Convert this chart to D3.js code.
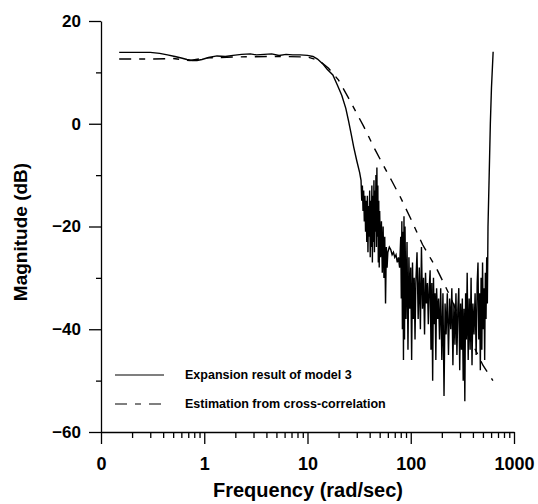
<!DOCTYPE html>
<html lang="en">
<head>
  <meta charset="UTF-8">
  <title>magnitude</title>
  <style>
    body { margin: 0; background: #fff; }
    text { font-family: "Liberation Sans", Arial, sans-serif; font-weight: bold; fill: #000; }
  </style>
</head>
<body>
  <script src="https://cdn.jsdelivr.net/npm/d3@7/dist/d3.min.js"></script>
  <script>
  // tick values and labels
  var xMajor = [0.1, 1, 10, 100, 1000];
  var xMajorLabels = ['0', '1', '10', '100', '1000'];
  var xMinor = [0.2, 0.3, 0.4, 0.5, 0.6, 0.7, 0.8, 0.9,
                2, 3, 4, 5, 6, 7, 8, 9,
                20, 30, 40, 50, 60, 70, 80, 90,
                200, 300, 400, 500, 600, 700, 800, 900];
  var yMajor = [20, 0, -20, -40, -60];
  var yMinor = [10, -10, -30, -50];

  var seriesNames = ['Expansion result of model 3', 'Estimation from cross-correlation'];

  // expansion result of model 3  [freq, dB]
  var modelFreq = [0.15, 0.2, 0.3, 0.37, 0.44, 0.52, 0.6, 0.68, 0.76, 0.85, 0.95, 1.1, 1.33, 1.6, 1.9, 2.3, 2.8, 3.2, 3.8, 4.5, 5.3, 6.2, 7.2, 8.5, 10, 11.3, 12.5, 14, 15.5, 17.6, 19.5, 21.5, 23.5, 25, 26.5, 28, 30, 32,
    33, 33.5, 34, 34.5, 35, 35.5, 36, 36.5, 37, 37.5, 38, 38.5, 39, 39.5, 40, 40.5, 41, 41.5, 42, 42.5, 43, 43.5, 44, 44.5, 45, 45.5, 46, 46.5, 47, 47.5, 48, 48.5, 49, 49.5, 50, 51, 52, 53,
    54, 55, 56, 57, 58, 59, 60, 62, 64, 66, 68, 70, 72, 74, 76, 78,
    80, 81, 82, 83, 84, 85, 86, 87, 88, 90, 92, 94, 96, 98, 100, 102, 104, 106, 108, 110, 112,
    115, 118, 121, 124, 127, 130, 133, 136, 139, 142, 145, 148, 151,
    154, 157, 160, 163, 166, 169, 172, 175, 178, 182, 186, 190,
    195, 200, 205, 210, 215, 220, 226, 232, 238, 244, 250, 256, 262, 268, 274, 280, 286,
    292, 298, 304, 310, 316, 322, 328, 334, 340, 346, 352, 360, 368, 376, 384, 392, 400, 410, 420, 430,
    440, 448, 456, 464, 472, 480, 488, 496, 504, 512, 520, 528, 536, 544, 552, 560, 575, 590, 605, 618, 628];
  var modelDb = [13.9, 13.9, 13.9, 13.7, 13.4, 13.1, 12.8, 12.5, 12.3, 12.3, 12.5, 12.9, 13.2, 13.1, 13.3, 13.5, 13.6, 13.4, 13.5, 13.6, 13.3, 13.5, 13.4, 13.4, 13.3, 13.1, 12.6, 11.7, 10.6, 9.5, 7.5, 5.5, 3, 0.5, -2, -4.5, -7.2, -9.5,
    -11, -15, -12, -17, -13, -19, -14, -21, -15, -23, -14, -25, -16, -22, -13, -26, -15, -24, -12, -27, -14, -23, -11, -25, -13, -21, -10, -24, -8.5, -22, -12, -27, -15, -28, -17, -26, -19, -29,
    -20, -30, -22, -35, -24, -28, -25, -24, -24.5, -25.5, -25, -26, -25.5, -27, -26, -28,
    -22, -34, -19, -40, -21, -46, -18, -42, -20, -38, -23, -44, -26, -36, -28, -46, -27, -38, -30, -42, -31,
    -25, -38, -28, -40, -24, -36, -30, -41, -29, -35, -31, -39, -32,
    -28.5, -44, -31, -50, -30, -39, -33, -46, -32, -38, -34, -42,
    -32, -46, -33, -53, -35, -41, -33, -45, -34, -40, -32, -47, -35, -43, -33, -45, -36,
    -32, -48, -35, -44, -34, -50, -36, -54, -33, -42, -29, -46, -34, -44, -30, -47, -35, -41, -33, -45,
    -31, -27, -42, -33, -48, -30, -44, -27, -40, -32, -46, -29, -38, -26, -35, -20, -10, 0, 7, 11, 14];

  // estimation from cross-correlation  [freq, dB]
  var estFreq = [0.15, 0.3, 0.5, 0.73, 1, 2, 5, 10, 13, 16, 20, 25, 30, 35, 45, 55, 65, 79, 100, 130, 180, 240, 300, 400, 500, 625];
  var estDb = [12.6, 12.6, 12.7, 12.3, 12.8, 13, 13.1, 13, 12.3, 10.8, 8.5, 5, 2, -0.5, -5, -8.3, -11, -14.2, -18.5, -23.5, -28.4, -33.5, -38.2, -43, -47, -50];

  var w = 538, h = 504;
  var svg = d3.select('body').append('svg').attr('width', w).attr('height', h);

  var x = d3.scaleLog().domain([0.1, 1000]).range([101, 514]);
  var y = d3.scaleLinear().domain([-60, 20]).range([432, 21]);

  // axes
  var xAxis = svg.append('g')
    .attr('transform', 'translate(0,' + y(-60) + ')')
    .call(d3.axisBottom(x).tickValues(xMajor).tickSize(12).tickSizeOuter(0).tickPadding(13)
      .tickFormat(function (d, i) { return xMajorLabels[i]; }));
  svg.append('g')
    .attr('transform', 'translate(0,' + y(-60) + ')')
    .call(d3.axisBottom(x).tickValues(xMinor).tickSize(6).tickFormat(''))
    .select('.domain').remove();

  var yAxis = svg.append('g')
    .attr('transform', 'translate(' + x(0.1) + ',0)')
    .call(d3.axisLeft(y).tickValues(yMajor).tickSize(12).tickSizeOuter(0).tickPadding(8));
  svg.append('g')
    .attr('transform', 'translate(' + x(0.1) + ',0)')
    .call(d3.axisLeft(y).tickValues(yMinor).tickSize(5).tickFormat(''))
    .select('.domain').remove();

  svg.selectAll('.domain, .tick line').attr('stroke', '#000').attr('stroke-width', 1.3);
  xAxis.selectAll('text').style('font-size', '18px').attr('font-family', null);
  yAxis.selectAll('text').style('font-size', '17px').attr('font-family', null);

  // axis titles
  svg.append('text')
    .attr('x', 308).attr('y', 497)
    .attr('text-anchor', 'middle')
    .style('font-size', '20px')
    .text('Frequency (rad/sec)');
  svg.append('text')
    .attr('transform', 'translate(27,232) rotate(-90)')
    .attr('text-anchor', 'middle')
    .style('font-size', '19px')
    .text('Magnitude (dB)');

  // curves
  var line = d3.line()
    .x(function (d) { return x(d[0]); })
    .y(function (d) { return y(d[1]); });

  var model = d3.zip(modelFreq, modelDb);
  var est = d3.zip(estFreq, estDb);

  svg.append('path')
    .datum(est)
    .attr('d', line)
    .attr('fill', 'none')
    .attr('stroke', '#000')
    .attr('stroke-width', 1.4)
    .attr('stroke-dasharray', '12,8,6,8');

  svg.append('path')
    .datum(model)
    .attr('d', line)
    .attr('fill', 'none')
    .attr('stroke', '#000')
    .attr('stroke-width', 1.4);

  // legend
  var legend = svg.append('g');
  var legendY = [375, 404];
  legend.selectAll('line')
    .data(seriesNames)
    .enter()
    .append('line')
    .attr('x1', 115).attr('x2', 164)
    .attr('y1', function (d, i) { return legendY[i]; })
    .attr('y2', function (d, i) { return legendY[i]; })
    .attr('stroke', '#000')
    .attr('stroke-width', 1.2)
    .attr('stroke-dasharray', function (d, i) { return i ? '12,8,6,8' : null; });
  legend.selectAll('text')
    .data(seriesNames)
    .enter()
    .append('text')
    .attr('x', 185)
    .attr('y', function (d, i) { return legendY[i] + 4; })
    .style('font-size', '12.5px')
    .text(function (d) { return d; });
  </script>
</body>
</html>
